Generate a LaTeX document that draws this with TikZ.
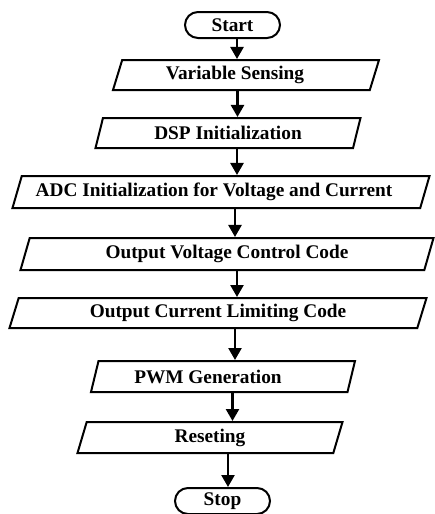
\documentclass[tikz,border=0pt]{standalone}
\usepackage{fontspec}
\setmainfont{Liberation Serif}
\usetikzlibrary{arrows.meta,shapes.geometric,shapes.misc}

\begin{document}
\begin{tikzpicture}[
  x=0.5pt, y=-0.5pt,
  iobox/.style={draw, line width=1pt, trapezium, trapezium left angle=67, trapezium right angle=113, trapezium stretches body, inner sep=1pt, font=\fontsize{9.65}{11}\selectfont\bfseries},
  termbox/.style={draw, line width=1pt, rounded rectangle, minimum width=49.5pt, minimum height=13pt, inner sep=1pt, font=\fontsize{9.65}{11}\selectfont\bfseries},
  textshift/.style={execute at begin node={\hspace*{#1}}},
  arrow/.style={-{Triangle[length=6pt,width=6.5pt]}, line width=1.2pt},
]
\useasboundingbox (0,0) rectangle (434,514);

\node[termbox] (start) at (232.5,25) {Start};
\node[iobox, minimum width=133pt, minimum height=15pt, textshift=-11pt] (sense) at (246,75) {Variable Sensing};
\node[iobox, minimum width=132.5pt, minimum height=15pt] (dsp) at (228,133) {DSP Initialization};
\node[iobox, minimum width=208.5pt, minimum height=16pt, textshift=-7pt] (adc) at (221,192) {ADC Initialization for Voltage and Current};
\node[iobox, minimum width=206.5pt, minimum height=16pt] (outv) at (227,254) {Output Voltage Control Code};
\node[iobox, minimum width=208.5pt, minimum height=15pt] (outc) at (218,313) {Output Current Limiting Code};
\node[iobox, minimum width=132pt, minimum height=15.5pt, textshift=-15pt] (pwm) at (223,376.5) {PWM Generation};
\node[iobox, minimum width=132.5pt, minimum height=15.5pt] (reset) at (210,437.5) {Reseting};
\node[termbox] (stop) at (222.5,501) {Stop};

\foreach \a/\b/\x in {start/sense/237, sense/dsp/237.5, dsp/adc/237, adc/outv/235, outv/outc/237, outc/pwm/235, pwm/reset/232.5, reset/stop/228}
{
  \coordinate (ax) at (\x,0);
  \draw[arrow] (\a.south -| ax) -- (\b.north -| ax);
}

\end{tikzpicture}
\end{document}
